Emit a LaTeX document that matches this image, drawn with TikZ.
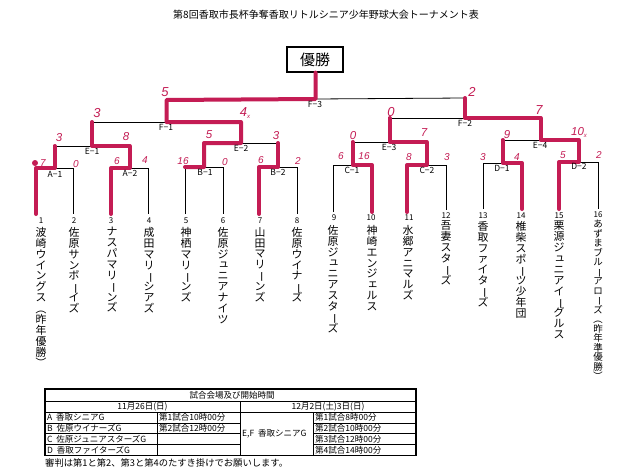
\documentclass[tikz,border=0pt]{standalone}
\usepackage{fontspec}
\usepackage{graphicx}
\setmainfont{Noto Sans CJK JP}
\newfontfamily\hand{Liberation Sans}
\definecolor{win}{RGB}{196,28,84}
% vertical (tategaki) stacking of characters
\newdimen\vw
\newcommand\smallk[1]{\hbox to\vw{\hss\raisebox{0.12\vw}{\hspace{0.16\vw}#1}\hss}}
\newcommand\vch[1]{%
  \ifx#1ー\hbox to\vw{\hss\rotatebox[origin=c]{-90}{ー}\hss}%
  \else\ifx#1（\hbox to\vw{\hss\rotatebox[origin=c]{-90}{（}\hss}%
  \else\ifx#1）\hbox to\vw{\hss\rotatebox[origin=c]{-90}{）}\hss}%
  \else\ifx#1ュ\smallk{#1}%
  \else\ifx#1ッ\smallk{#1}%
  \else\ifx#1ィ\smallk{#1}%
  \else\ifx#1ェ\smallk{#1}%
  \else\hbox to\vw{\hss#1\hss}%
  \fi\fi\fi\fi\fi\fi\fi}
\def\vtloop#1{\ifx#1\relax\else\vch{#1}\expandafter\vtloop\fi}
\newcommand\vname[2][10.9]{{\fontsize{#1}{#1}\selectfont\vw=#1pt\relax
  \vbox{\baselineskip=#1pt\lineskip=0pt\lineskiplimit=-100pt\vtloop#2\relax}}}
\tikzset{
  bl/.style={line width=0.8pt, black},
  wr/.style={line width=4pt, win, line join=round, line cap=round},
  sc/.style={font=\hand\itshape\fontsize{10}{10}\selectfont, text=win, inner sep=0},
  scE/.style={sc, font=\hand\itshape\fontsize{11.5}{11.5}\selectfont},
  scF/.style={sc, font=\hand\itshape\fontsize{13}{13}\selectfont},
  ml/.style={font=\fontsize{8.5}{8.5}\selectfont, inner sep=0},
  tn/.style={font=\fontsize{8}{8}\selectfont, inner sep=0, anchor=base},
  vn/.style={inner sep=0, anchor=north},
  tb/.style={font=\fontsize{8.5}{9}\selectfont, inner sep=0, anchor=west},
  tbc/.style={font=\fontsize{8.5}{9}\selectfont, inner sep=0},
  tline/.style={line width=0.9pt, black},
}
\begin{document}
\begin{tikzpicture}[x=1pt,y=-1pt]
\useasboundingbox[fill=white] (0,0) rectangle (640,471);

% title and champion box
\node[font=\fontsize{10}{10}\selectfont, inner sep=0] (title) at (326,15) {第8回香取市長杯争奪香取リトルシニア少年野球大会トーナメント表};
\node[draw, line width=1.1pt, minimum width=56pt, minimum height=25pt, inner sep=0,
      font=\fontsize{15}{15}\selectfont] (champ) at (315,59.5) {優勝};

% leaf bottoms
\coordinate (t1) at (36,214);  \coordinate (t2) at (73,214);
\coordinate (t3) at (111,214); \coordinate (t4) at (148,214);
\coordinate (t5) at (185,214); \coordinate (t6) at (223,214);
\coordinate (t7) at (259,214); \coordinate (t8) at (297,214);
\coordinate (t9) at (333,212); \coordinate (t10) at (372,212);
\coordinate (t11) at (407,212); \coordinate (t12) at (446,210);
\coordinate (t13) at (483,209); \coordinate (t14) at (522,209);
\coordinate (t15) at (559,209); \coordinate (t16) at (598,209);
% first round
\coordinate (A1l) at (36,168);  \coordinate (A1r) at (73,168);  \coordinate (A1c) at (54.5,168);
\coordinate (A2l) at (111,168); \coordinate (A2r) at (148,168); \coordinate (A2c) at (129.5,168);
\coordinate (B1l) at (185,167); \coordinate (B1r) at (223,167); \coordinate (B1c) at (204,167);
\coordinate (B2l) at (259,167); \coordinate (B2r) at (297,167); \coordinate (B2c) at (278,167);
\coordinate (C1l) at (333,165); \coordinate (C1r) at (372,165); \coordinate (C1c) at (352.5,165);
\coordinate (C2l) at (407,165); \coordinate (C2r) at (446,165); \coordinate (C2c) at (426.5,165);
\coordinate (D1l) at (483,163); \coordinate (D1r) at (522,163); \coordinate (D1c) at (502.5,163);
\coordinate (D2l) at (559,162); \coordinate (D2r) at (598,162); \coordinate (D2c) at (578.5,162);
% second round
\coordinate (E1l) at (54.5,146);  \coordinate (E1r) at (129.5,146); \coordinate (E1c) at (92,146);
\coordinate (E2l) at (204,143);   \coordinate (E2r) at (278,143);   \coordinate (E2c) at (241,143);
\coordinate (E3l) at (352.5,142); \coordinate (E3r) at (426.5,142); \coordinate (E3c) at (389.5,142);
\coordinate (E4l) at (502.5,140); \coordinate (E4r) at (578.5,140); \coordinate (E4c) at (540.5,140);
% semi finals and final
\coordinate (F1l) at (92,122);    \coordinate (F1r) at (241,122);   \coordinate (F1c) at (166.5,122);
\coordinate (F2l) at (389.5,118); \coordinate (F2r) at (540.5,118); \coordinate (F2c) at (465,118);
\coordinate (F3l) at (166.5,100); \coordinate (F3r) at (465,98);    \coordinate (F3c) at (315.5,99);
\coordinate (top) at (F3c |- champ.south);

% black bracket
\draw[bl] (t1) -- (A1l) -- (A1r) -- (t2)  (A1c) -- (E1l);
\draw[bl] (t3) -- (A2l) -- (A2r) -- (t4)  (A2c) -- (E1r);
\draw[bl] (t5) -- (B1l) -- (B1r) -- (t6)  (B1c) -- (E2l);
\draw[bl] (t7) -- (B2l) -- (B2r) -- (t8)  (B2c) -- (E2r);
\draw[bl] (t9) -- (C1l) -- (C1r) -- (t10)  (C1c) -- (E3l);
\draw[bl] (t11) -- (C2l) -- (C2r) -- (t12)  (C2c) -- (E3r);
\draw[bl] (t13) -- (D1l) -- (D1r) -- (t14)  (D1c) -- (E4l);
\draw[bl] (t15) -- (D2l) -- (D2r) -- (t16)  (D2c) -- (E4r);
\draw[bl] (E1l) -- (E1r)  (E1c) -- (F1l);
\draw[bl] (E2l) -- (E2r)  (E2c) -- (F1r);
\draw[bl] (E3l) -- (E3r)  (E3c) -- (F2l);
\draw[bl] (E4l) -- (E4r)  (E4c) -- (F2r);
\draw[bl] (F1l) -- (F1r)  (F1c) -- (F3l);
\draw[bl] (F2l) -- (F2r)  (F2c) -- (F3r);
\draw[bl] (F3l) -- (F3c) -- (F3r)  (F3c) -- (top);

% winners in red
\draw[wr] (t1) -- (A1l) -- (A1c) -- (E1l);
\draw[wr] (t3) -- (A2l) -- (A2c) -- (E1r) -- (E1c) -- (F1l);
\draw[wr] (B1l) -- (B1c) -- (E2l) -- (E2c) -- (F1r) -- (F1c) -- (F3l) -- (F3c) -- (top);
\draw[wr] (t7) -- (B2l) -- (B2c) -- (E2r);
\draw[wr] (t10) -- (C1r) -- (C1c) -- (E3l);
\draw[wr] (t11) -- (C2l) -- (C2c) -- (E3r) -- (E3c) -- (F2l);
\draw[wr] (t14) -- (D1r) -- (D1c) -- (E4l);
\draw[wr] (t15) -- (D2l) -- (D2c) -- (E4r) -- (E4c) -- (F2r) -- (F2c) -- (F3r);

% match labels
\node[ml] (lA1) at (55,174) {A−1};
\node[ml] (lA2) at (130,173) {A−2};
\node[ml] (lB1) at (205,172) {B−1};
\node[ml] (lB2) at (278,172) {B−2};
\node[ml] (lC1) at (352,170) {C−1};
\node[ml] (lC2) at (427,170) {C−2};
\node[ml] (lD1) at (502,168) {D−1};
\node[ml] (lD2) at (579,166.5) {D−2};
\node[ml] (lE1) at (92,151) {E−1};
\node[ml] (lE2) at (241,148) {E−2};
\node[ml] (lE3) at (389,147) {E−3};
\node[ml] (lE4) at (540,145) {E−4};
\node[ml] (lF1) at (166,127) {F−1};
\node[ml] (lF2) at (465,123) {F−2};
\node[ml] (lF3) at (315,104) {F−3};

% scores
\node[scF] (s31) at (165,92) {5};
\node[scF] (s32) at (472,92) {2};
\node[scF] (s11) at (97,113) {3};
\node[scF] (s12) at (245,113) {4\raisebox{-2pt}{\fontsize{6}{6}\selectfont x}};
\node[scF] (s21) at (391,112) {0};
\node[scF] (s22) at (539,110) {7};
\node[scE] (e11) at (59,138) {3};
\node[scE] (e12) at (126,137) {8};
\node[scE] (e21) at (209,135) {5};
\node[scE] (e22) at (276,136) {3};
\node[scE] (e31) at (353,136) {0};
\node[scE] (e32) at (424,133) {7};
\node[scE] (e41) at (507,135) {9};
\node[scE] (e42) at (579,132) {10\raisebox{-2pt}{\fontsize{6}{6}\selectfont x}};
\fill[win] (35,163) circle (3pt);
\node[sc] (a11) at (43,163) {7};
\node[sc] (a12) at (76,164) {0};
\node[sc] (a21) at (117,161) {6};
\node[sc] (a22) at (145,160) {4};
\node[sc] (b11) at (183,161) {16};
\node[sc] (b12) at (225,162) {0};
\node[sc] (b21) at (261,160) {6};
\node[sc] (b22) at (298,161) {2};
\node[sc] (c11) at (341,156) {6};
\node[sc] (c12) at (364,156) {16};
\node[sc] (c21) at (409,157) {8};
\node[sc] (c22) at (447,157) {3};
\node[sc] (d11) at (483,157) {3};
\node[sc] (d12) at (517,157) {4};
\node[sc] (d21) at (563,155) {5};
\node[sc] (d22) at (599,155) {2};

% team numbers
\node[tn] (k1) at (41,223) {1};
\node[tn] (k2) at (74,223) {2};
\node[tn] (k3) at (111,223) {3};
\node[tn] (k4) at (149,223) {4};
\node[tn] (k5) at (186,223) {5};
\node[tn] (k6) at (223,223) {6};
\node[tn] (k7) at (260,223) {7};
\node[tn] (k8) at (297,223) {8};
\node[tn] (k9) at (334,220) {9};
\node[tn] (k10) at (371,220) {10};
\node[tn] (k11) at (409,220) {11};
\node[tn] (k12) at (446,218) {12};
\node[tn] (k13) at (483,218) {13};
\node[tn] (k14) at (521,218) {14};
\node[tn] (k15) at (559,218) {15};
\node[tn] (k16) at (598,217) {16};

% team names (vertical)
\node[vn] (n1) at (41,227) {\vname{波崎ウイングス（昨年優勝）}};
\node[vn] (n2) at (74,227) {\vname{佐原サンボーイズ}};
\node[vn] (n3) at (112,227) {\vname{ナスパマリーンズ}};
\node[vn] (n4) at (149,227) {\vname{成田マリーシアズ}};
\node[vn] (n5) at (186,227) {\vname{神栖マリーンズ}};
\node[vn] (n6) at (223,227) {\vname{佐原ジュニアナイツ}};
\node[vn] (n7) at (260,227) {\vname{山田マリーンズ}};
\node[vn] (n8) at (297,227) {\vname{佐原ウイナーズ}};
\node[vn] (n9) at (333,225) {\vname{佐原ジュニアスターズ}};
\node[vn] (n10) at (372,225) {\vname{神崎エンジェルス}};
\node[vn] (n11) at (408,225) {\vname{水郷アニマルズ}};
\node[vn] (n12) at (446,221) {\vname{吾妻スターズ}};
\node[vn] (n13) at (483,221) {\vname{香取ファイターズ}};
\node[vn] (n14) at (521,221) {\vname{椎柴スポーツ少年団}};
\node[vn] (n15) at (559,221) {\vname{栗源ジュニアイーグルス}};
\node[vn] (n16) at (598,220) {\vname[9.5]{あずまブルーアローズ（昨年準優勝）}};

% schedule table
\draw[line width=1.2pt] (45,389) rectangle (416,455.5);
\draw[tline] (45,401.5) -- (416,401.5)  (45,412) -- (416,412);
\draw[tline] (45,423) -- (240,423)  (45,433.5) -- (240,433.5)  (45,444.5) -- (240,444.5);
\draw[tline] (313,423) -- (416,423)  (313,433.5) -- (416,433.5)  (313,444.5) -- (416,444.5);
\draw[tline] (240,401.5) -- (240,455.5)  (157,412) -- (157,455.5)  (313,412) -- (313,455.5);
\node[tbc] (h0) at (232,395.5) {試合会場及び開始時間};
\node[tbc] (h1) at (142.5,407) {11月26日(日)};
\node[tbc] (h2) at (328,407) {12月2日(土)3日(日)};
\node[tb] (g1) at (47,417.5) {A\ \ 香取シニアG};
\node[tb] (g2) at (47,428.2) {B\ \ 佐原ウイナーズG};
\node[tb] (g3) at (47,439) {C\ \ 佐原ジュニアスターズG};
\node[tb] (g4) at (47,450) {D\ \ 香取ファイターズG};
\node[tb] (m1) at (159,417.5) {第1試合10時00分};
\node[tb] (m2) at (159,428.2) {第2試合12時00分};
\node[tb] (ef) at (242,434) {E,F\ \ 香取シニアG};
\node[tb] (r1) at (315,417.5) {第1試合8時00分};
\node[tb] (r2) at (315,428.2) {第2試合10時00分};
\node[tb] (r3) at (315,439) {第3試合12時00分};
\node[tb] (r4) at (315,450) {第4試合14時00分};
\node[font=\fontsize{9.3}{9.3}\selectfont, inner sep=0, anchor=west] (note) at (45,462.5) {審判は第1と第2、第3と第4のたすき掛けでお願いします。};
\end{tikzpicture}
\end{document}
